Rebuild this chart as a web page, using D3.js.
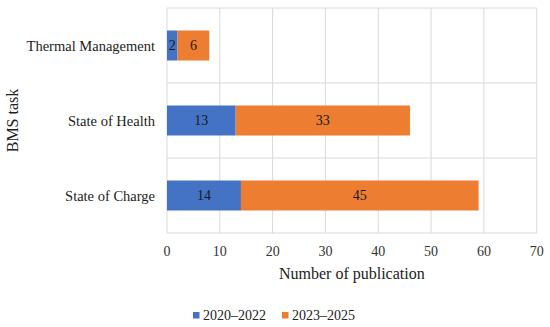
<!DOCTYPE html>
<html><head><meta charset="utf-8">
<script src="https://cdn.jsdelivr.net/npm/d3@7"></script>
<style>body{margin:0;background:#fff}svg{display:block;font-family:"Liberation Serif","Times New Roman",serif}</style>
</head><body><svg id="c" width="550" height="327"></svg>
<script>
const categories = ["Thermal Management", "State of Health", "State of Charge"];
const seriesNames = ["2020–2022", "2023–2025"];
const values2020 = [2, 13, 14];
const values2023 = [6, 33, 45];
const xTicks = [0, 10, 20, 30, 40, 50, 60, 70];
const colors = ["#4472C4", "#ED7D31"];

const svg = d3.select("#c");
const m = {l:167, r:13.3, t:8, b:94};
const W = 550, H = 327;
const x = d3.scaleLinear().domain([0,70]).range([m.l, W-m.r]);
const y = d3.scaleBand().domain(categories).range([m.t, H-m.b]).paddingInner(0).paddingOuter(0);
const barH = y.bandwidth()*0.4;

const data = categories.map((c,i)=>({cat:c, v:[values2020[i], values2023[i]]}));
const stack = d3.stack().keys([0,1]).value((d,k)=>d.v[k])(data);

// gridlines
svg.append("g").selectAll("line").data(xTicks).join("line")
  .attr("x1",d=>x(d)).attr("x2",d=>x(d)).attr("y1",m.t).attr("y2",H-m.b)
  .attr("stroke","#d9d9d9").attr("stroke-width",1);
const hl = [m.t].concat(categories.map(c=>y(c)+y.bandwidth()));
svg.append("g").selectAll("line").data(hl).join("line")
  .attr("x1",m.l).attr("x2",W-m.r).attr("y1",d=>d).attr("y2",d=>d)
  .attr("stroke","#d9d9d9").attr("stroke-width",1);

// bars
stack.forEach((s,k)=>{
  const g = svg.append("g");
  g.selectAll("rect").data(s).join("rect")
    .attr("x",d=>x(d[0])).attr("width",d=>x(d[1])-x(d[0]))
    .attr("y",d=>y(d.data.cat)+(y.bandwidth()-barH)/2).attr("height",barH)
    .attr("fill",colors[k]);
  g.selectAll("text").data(s).join("text")
    .attr("x",d=>(x(d[0])+x(d[1]))/2).attr("y",d=>y(d.data.cat)+y.bandwidth()/2)
    .attr("dy","0.35em").attr("text-anchor","middle").attr("font-size",14).attr("fill","#1a1a1a")
    .text(d=>d.data.v[k]);
});

// x axis labels
svg.append("g").selectAll("text").data(xTicks).join("text")
  .attr("x",d=>x(d)).attr("y",H-m.b+18.5).attr("dy","0.35em").attr("text-anchor","middle")
  .attr("font-size",14).attr("fill","#333").text(d=>d);
// y category labels
svg.append("g").selectAll("text").data(categories).join("text")
  .attr("x",m.l-12).attr("y",d=>y(d)+y.bandwidth()/2).attr("dy","0.35em").attr("text-anchor","end")
  .attr("font-size",14.5).attr("fill","#222").text(d=>d);

svg.append("text").attr("x",(m.l+W-m.r)/2).attr("y",273).attr("dy","0.35em").attr("text-anchor","middle")
  .attr("font-size",16).attr("fill","#222").text("Number of publication");
svg.append("text").attr("transform",`translate(12,${(m.t+H-m.b)/2}) rotate(-90)`).attr("dy","0.35em")
  .attr("text-anchor","middle").attr("font-size",16).attr("fill","#222").text("BMS task");

// legend
const lx = [193, 282];
seriesNames.forEach((n,i)=>{
  svg.append("rect").attr("x",lx[i]).attr("y",312).attr("width",6.5).attr("height",6.5).attr("fill",colors[i]);
  svg.append("text").attr("x",lx[i]+10).attr("y",315.5).attr("dy","0.35em").attr("font-size",14).attr("fill","#222").text(n);
});
</script></body></html>
